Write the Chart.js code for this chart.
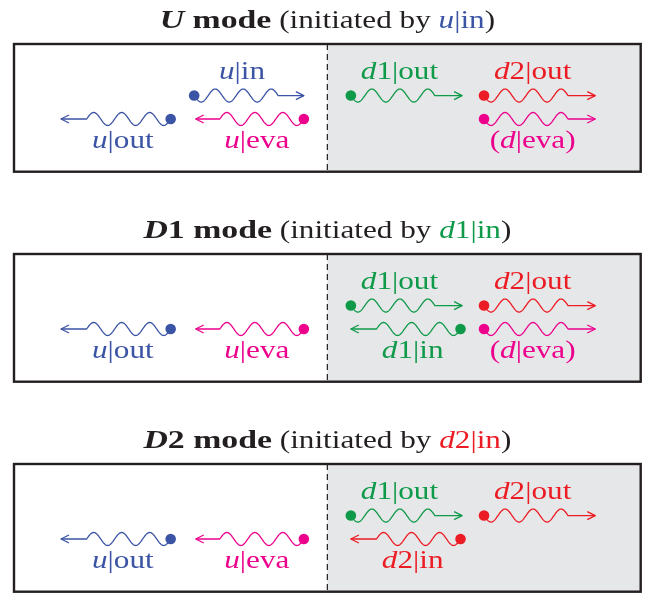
<!DOCTYPE html>
<html><head><meta charset="utf-8">
<script src="https://cdn.jsdelivr.net/npm/chart.js@4"></script>
<style>
html,body{margin:0;padding:0;background:#fff;width:646px;height:597px;overflow:hidden}
.p{position:absolute;left:0;width:646px;height:177px}
canvas{display:block}
</style></head><body>
<div class="p" style="top:0"><canvas id="c0" width="646" height="177"></canvas></div>
<div class="p" style="top:210px"><canvas id="c1" width="646" height="177"></canvas></div>
<div class="p" style="top:420px"><canvas id="c2" width="646" height="177"></canvas></div>
<script>
// ---- data ----
const modeNames = ['U', 'D1', 'D2'];
const modeInitiators = ['u|in', 'd1|in', 'd2|in'];
// row 0 = upper lane, row 1 = lower lane; start = source dot, end = arrow tip (interface at 0)
const uModeWaves = [
  {label: 'u|in',    row: 0, start: -0.425, end: -0.075},
  {label: 'u|out',   row: 1, start: -0.50,  end: -0.85},
  {label: 'u|eva',   row: 1, start: -0.075, end: -0.42},
  {label: 'd1|out',  row: 0, start: 0.075,  end: 0.43},
  {label: 'd2|out',  row: 0, start: 0.50,   end: 0.855},
  {label: '(d|eva)', row: 1, start: 0.50,   end: 0.855}
];
const d1ModeWaves = [
  {label: 'u|out',   row: 1, start: -0.50,  end: -0.85},
  {label: 'u|eva',   row: 1, start: -0.075, end: -0.42},
  {label: 'd1|out',  row: 0, start: 0.075,  end: 0.43},
  {label: 'd2|out',  row: 0, start: 0.50,   end: 0.855},
  {label: 'd1|in',   row: 1, start: 0.425,  end: 0.075},
  {label: '(d|eva)', row: 1, start: 0.50,   end: 0.855}
];
const d2ModeWaves = [
  {label: 'u|out',   row: 1, start: -0.50,  end: -0.85},
  {label: 'u|eva',   row: 1, start: -0.075, end: -0.42},
  {label: 'd1|out',  row: 0, start: 0.075,  end: 0.43},
  {label: 'd2|out',  row: 0, start: 0.50,   end: 0.855},
  {label: 'd2|in',   row: 1, start: 0.425,  end: 0.075}
];
const panelWaves = [uModeWaves, d1ModeWaves, d2ModeWaves];

// ---- style ----
const COLORS = {u: '#3b54a5', d1: '#0f9a4a', d2: '#ec1c24', eva: '#ec008c'};
const INK = '#231f20';
const FONT = '"Liberation Serif", "DejaVu Serif", serif';
const TITLE_SIZE = 26, LABEL_SIZE = 26;

function colorFor(label) {
  if (label.includes('eva')) return COLORS.eva;
  if (label.startsWith('u')) return COLORS.u;
  if (label.startsWith('d1')) return COLORS.d1;
  return COLORS.d2;
}
function labelParts(label, size, color) {
  const parts = [];
  for (let i = 0; i < label.length; i++) {
    const ch = label[i];
    const it = (ch === 'u' || ch === 'd') && (i === 0 || label[i - 1] === '(');
    const font = (it ? 'italic ' : '') + size + 'px ' + FONT;
    const last = parts[parts.length - 1];
    if (last && last.font === font) last.t += ch;
    else parts.push({t: ch, font: font, color: color, sx: 1.2});
  }
  return parts;
}
function drawRich(ctx, parts, cx, baseline) {
  let total = 0;
  parts.forEach(p => { ctx.font = p.font; p.w = ctx.measureText(p.t).width * (p.sx || 1); total += p.w; });
  let x = cx - total / 2;
  ctx.textBaseline = 'alphabetic';
  ctx.textAlign = 'left';
  parts.forEach(p => {
    ctx.save();
    ctx.font = p.font; ctx.fillStyle = p.color;
    ctx.translate(x, baseline);
    ctx.scale(p.sx || 1, 1);
    ctx.fillText(p.t, 0, 0);
    ctx.restore();
    x += p.w;
  });
}
function drawWave(ctx, x0, x1, y, color) {
  const dir = Math.sign(x1 - x0);
  const lambda = 28, amp = 6.5, periods = 3;
  const wl = lambda * periods;
  ctx.save();
  ctx.strokeStyle = color;
  ctx.lineWidth = 1.3;
  ctx.lineJoin = 'round';
  ctx.beginPath();
  ctx.moveTo(x0, y);
  for (let s = 0; s <= wl; s += 0.5) {
    ctx.lineTo(x0 + dir * s, y + amp * Math.sin(2 * Math.PI * s / lambda));
  }
  ctx.lineTo(x1, y);
  ctx.stroke();
  ctx.beginPath();
  ctx.moveTo(x1 - dir * 8, y - 4);
  ctx.lineTo(x1, y);
  ctx.lineTo(x1 - dir * 8, y + 4);
  ctx.stroke();
  ctx.restore();
}

const diagramPlugin = {
  id: 'diagram',
  beforeDatasetsDraw(chart) {
    const ctx = chart.ctx, a = chart.chartArea;
    const xs = chart.scales.x, ys = chart.scales.y;
    const xi = xs.getPixelForValue(0);
    ctx.save();
    ctx.fillStyle = '#e6e7e8';
    ctx.fillRect(xi, a.top, a.right - xi, a.bottom - a.top);
    ctx.strokeStyle = INK;
    ctx.lineWidth = 1.2;
    ctx.setLineDash([6, 4]);
    ctx.beginPath();
    ctx.moveTo(xi, a.top);
    ctx.lineTo(xi, a.bottom);
    ctx.stroke();
    ctx.setLineDash([]);
    const waves = panelWaves[chart.options.plugins.diagram.panel];
    waves.forEach(w => {
      const c = colorFor(w.label);
      const x0 = xs.getPixelForValue(w.start), x1 = xs.getPixelForValue(w.end);
      const y = ys.getPixelForValue(w.row);
      drawWave(ctx, x0, x1, y, c);
      const dir = Math.sign(x1 - x0);
      const cx = (x0 + x1) / 2 - dir * 7;
      const base = w.row === 0 ? y - 17 : y + 29;
      drawRich(ctx, labelParts(w.label, LABEL_SIZE, c), cx, base);
    });
    ctx.restore();
  },
  afterDatasetsDraw(chart) {
    const ctx = chart.ctx, a = chart.chartArea;
    const p = chart.options.plugins.diagram.panel;
    ctx.save();
    ctx.strokeStyle = INK;
    ctx.lineWidth = 2.4;
    ctx.strokeRect(a.left, a.top, a.right - a.left, a.bottom - a.top);
    const name = modeNames[p];
    const init = modeInitiators[p];
    const parts = [
      {t: name[0], font: 'italic bold ' + TITLE_SIZE + 'px ' + FONT, color: INK, sx: 1.3},
      {t: name.slice(1) + ' mode', font: 'bold ' + TITLE_SIZE + 'px ' + FONT, color: INK, sx: 1.3},
      {t: ' (initiated by ', font: TITLE_SIZE + 'px ' + FONT, color: INK, sx: 1.2}
    ].concat(labelParts(init, TITLE_SIZE, colorFor(init)))
     .concat([{t: ')', font: TITLE_SIZE + 'px ' + FONT, color: INK, sx: 1.2}]);
    drawRich(ctx, parts, (a.left + a.right) / 2, a.top - 16);
    ctx.restore();
  }
};

panelWaves.forEach((waves, p) => {
  new Chart(document.getElementById('c' + p), {
    type: 'scatter',
    data: {
      datasets: waves.map(w => ({
        label: w.label,
        data: [{x: w.start, y: w.row}],
        backgroundColor: colorFor(w.label),
        borderWidth: 0,
        pointRadius: 5.3,
        pointHoverRadius: 5.3,
        clip: false
      }))
    },
    options: {
      responsive: false,
      animation: false,
      events: [],
      layout: {padding: {left: 14, right: 5, top: 44, bottom: 2}},
      scales: {
        x: {type: 'linear', min: -1, max: 1, display: false},
        y: {type: 'linear', min: -2.2, max: 3.25, reverse: true, display: false}
      },
      plugins: {
        legend: {display: false},
        tooltip: {enabled: false},
        title: {display: false},
        diagram: {panel: p}
      }
    },
    plugins: [diagramPlugin]
  });
});
</script>
</body></html>
